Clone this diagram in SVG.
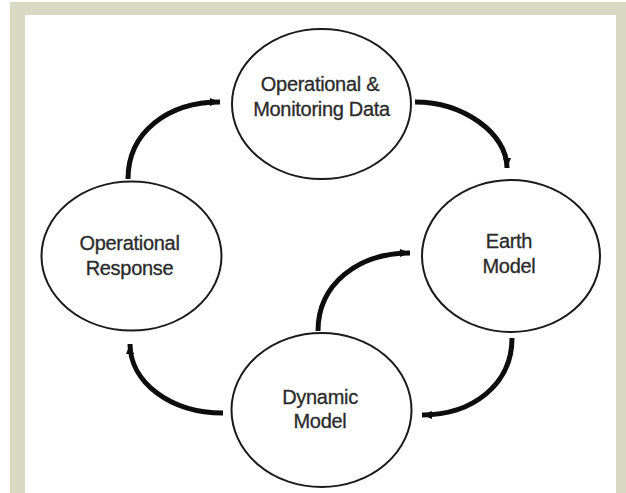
<svg xmlns="http://www.w3.org/2000/svg" width="626" height="493" viewBox="0 0 626 493">
  <style>
    .node ellipse { fill: #ffffff; stroke: #1a1a1a; stroke-width: 2; }
    .node text { font-family: "Liberation Sans", Arial, sans-serif; font-size: 20px; fill: #2a2a2a; text-anchor: middle; letter-spacing: -0.3px; stroke: #2a2a2a; stroke-width: 0.3; }
    .conn path { fill: none; stroke: #0d0d0d; stroke-width: 5; stroke-linecap: butt; }
  </style>
  <defs>
    <marker id="arrow" markerUnits="userSpaceOnUse" markerWidth="11" markerHeight="9" refX="10" refY="4.5" orient="auto">
      <path d="M0,0.5 L10,4.5 L0,8.5 z" fill="#0d0d0d"/>
    </marker>
  </defs>
  <rect x="0" y="0" width="626" height="493" fill="#ffffff"/>
  <rect x="10" y="2" width="616" height="491" fill="#d8d9c3"/>
  <rect x="25" y="15" width="591" height="478" fill="#ffffff"/>

  <g id="connectors" class="conn">
    <path d="M128,179 C128,132 168,102 220,102" marker-end="url(#arrow)"/>
    <path d="M415,102 C463,102 507,133 507,168" marker-end="url(#arrow)"/>
    <path d="M512,338 C512,385 472,415 422,415" marker-end="url(#arrow)"/>
    <path d="M223,413 C170,413 130,382 130,344" marker-end="url(#arrow)"/>
    <path d="M318,331 C318,284 358,253 410,253" marker-end="url(#arrow)"/>
  </g>

  <g id="node-data" class="node">
    <ellipse cx="321.5" cy="104" rx="89.5" ry="75"/>
    <text x="320" y="91">Operational &amp;</text>
    <text x="321.5" y="116">Monitoring Data</text>
  </g>
  <g id="node-earth" class="node">
    <ellipse cx="511" cy="256" rx="89" ry="76"/>
    <text x="509" y="248">Earth</text>
    <text x="509" y="273">Model</text>
  </g>
  <g id="node-response" class="node">
    <ellipse cx="131.5" cy="256" rx="90" ry="74.5"/>
    <text x="129.5" y="250">Operational</text>
    <text x="129.5" y="275">Response</text>
  </g>
  <g id="node-dynamic" class="node">
    <ellipse cx="321.5" cy="410" rx="90" ry="77"/>
    <text x="320" y="404">Dynamic</text>
    <text x="320" y="428">Model</text>
  </g>
</svg>
